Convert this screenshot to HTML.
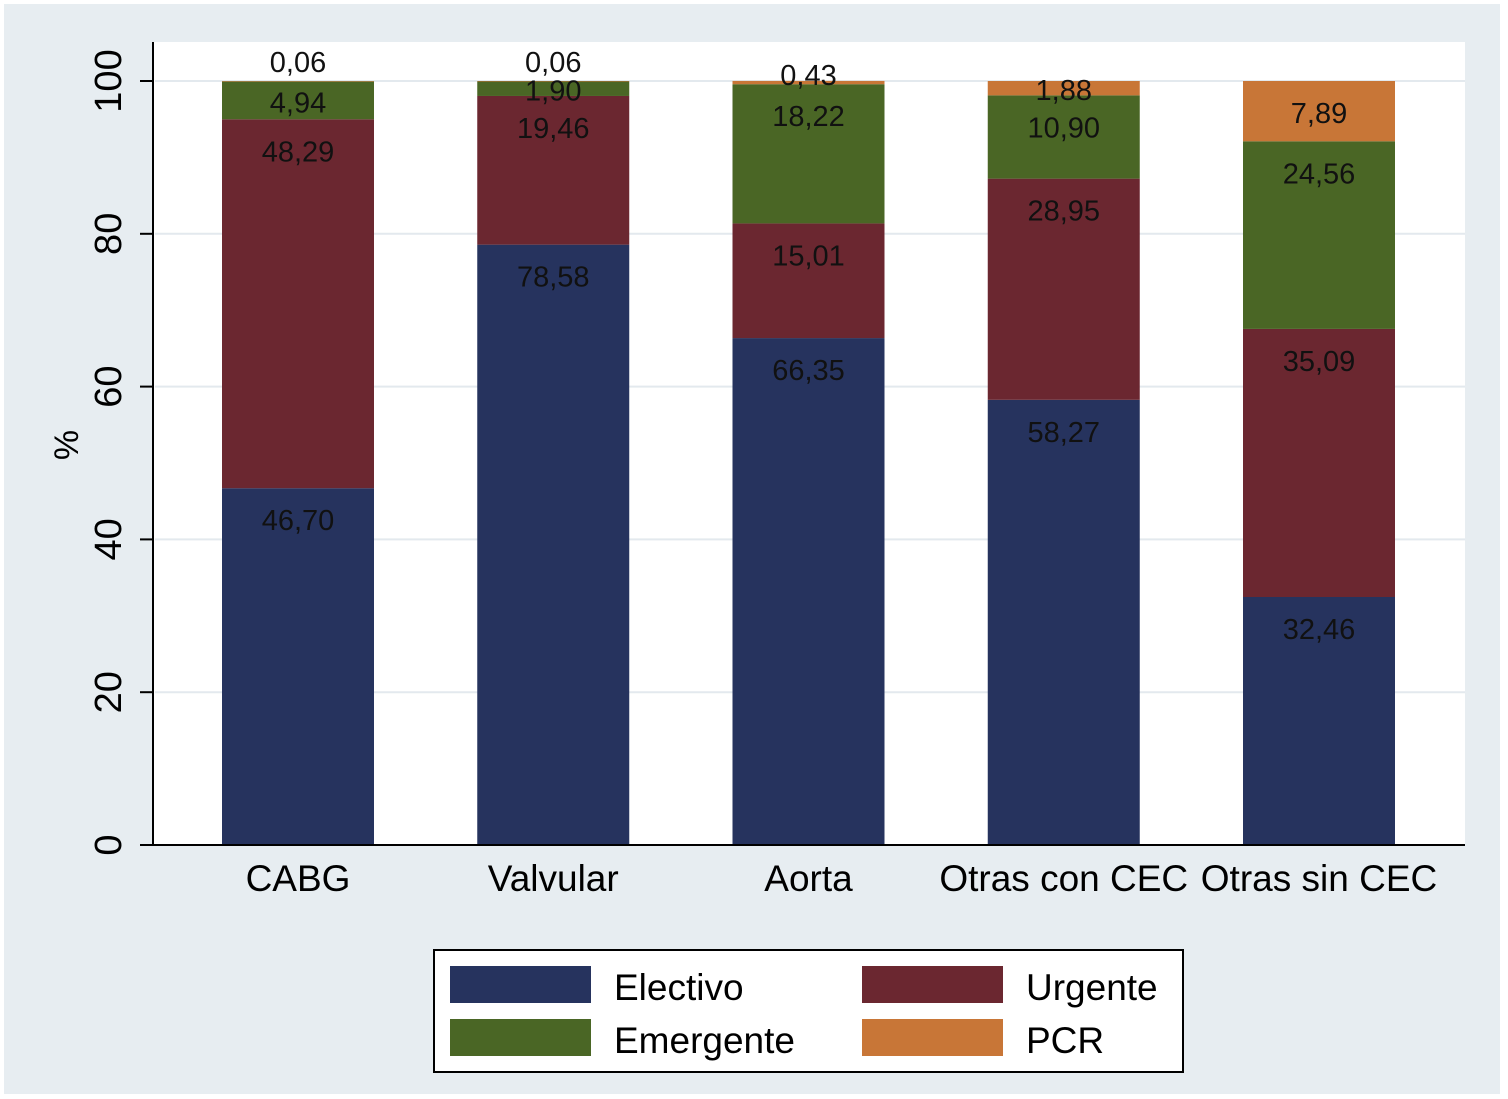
<!DOCTYPE html>
<html><head><meta charset="utf-8"><style>
html,body{margin:0;padding:0;background:#fff}
svg{display:block;font-family:"Liberation Sans",Arial,sans-serif}
</style></head><body>
<svg id="chart" width="1508" height="1099" viewBox="0 0 1508 1099" xmlns="http://www.w3.org/2000/svg">
<rect x="4" y="4" width="1496" height="1090" fill="#e7edf1"/>
<rect x="153" y="42" width="1312" height="803" fill="#fff"/>
<g id="grid"></g>
<g id="bars"></g>
<g id="labels"></g>
<line x1="153" y1="42" x2="153" y2="846" stroke="#000" stroke-width="2"/>
<line x1="153" y1="845" x2="1465" y2="845" stroke="#000" stroke-width="2"/>
<g id="yticks"></g>
<text transform="translate(78,445) rotate(-90)" text-anchor="middle" font-size="34">%</text>
<g id="xlabels"></g>
<g>
<rect x="434" y="950" width="749" height="122" fill="#fff" stroke="#000" stroke-width="2"/>
<rect x="450" y="966" width="141" height="37" fill="#26335e"/>
<text x="614" y="1000" font-size="37">Electivo</text>
<rect x="862" y="966" width="141" height="37" fill="#6b2730"/>
<text x="1026" y="1000" font-size="37">Urgente</text>
<rect x="450" y="1019" width="141" height="37" fill="#4a6625"/>
<text x="614" y="1053" font-size="37">Emergente</text>
<rect x="862" y="1019" width="141" height="37" fill="#c87637"/>
<text x="1026" y="1053" font-size="37">PCR</text>
</g>
</svg>
<script>
const categories=["CABG","Valvular","Aorta","Otras con CEC","Otras sin CEC"];
const electivo=[46.70,78.58,66.35,58.27,32.46];
const urgente=[48.29,19.46,15.01,28.95,35.09];
const emergente=[4.94,1.90,18.22,10.90,24.56];
const pcr=[0.06,0.06,0.43,1.88,7.89];
const yTicks=[0,20,40,60,80,100];
const seriesNames=["electivo","urgente","emergente","pcr"];
const colors=["#26335e","#6b2730","#4a6625","#c87637"];
const NS="http://www.w3.org/2000/svg";
const y0=845,y100=81,x0=298,step=255.25,bw=152;
function yScale(v){return y0-(y0-y100)*v/100;}
function xScale(i){return x0+step*i;}
function fmt(v){return v.toFixed(2).replace('.',',');}
function mk(tag,attrs,parent){const e=document.createElementNS(NS,tag);for(const k in attrs)e.setAttribute(k,attrs[k]);parent.appendChild(e);return e;}
const grid=document.getElementById('grid'),bars=document.getElementById('bars'),labels=document.getElementById('labels'),yt=document.getElementById('yticks'),xl=document.getElementById('xlabels');
yTicks.forEach(t=>{
  const y=yScale(t);
  if(t>0){const g=mk('line',{x1:155,x2:1465,y1:y,y2:y,stroke:'#e3e9ee','stroke-width':2},grid);
  
  }
  const tk=mk('line',{x1:140,x2:153,y1:y,y2:y,stroke:'#000','stroke-width':2},yt);
  
  
  const tx=mk('text',{transform:`translate(121,${y}) rotate(-90)`,'text-anchor':'middle','font-size':38},yt);
  
  
  tx.textContent=t;
});
const all=[electivo,urgente,emergente,pcr];
categories.forEach((c,i)=>{
  let base=0;const cx=xScale(i);
  all.forEach((s,k)=>{
    const v=s[i],top=yScale(base+v),bot=yScale(base);
    const r=mk('rect',{x:cx-bw/2,y:top,width:bw,height:Math.max(bot-top,0.5),fill:colors[k]},bars);
    
    
    const h=bot-top;
    let ly;
    if(h<6){ly=v>0.2?top-6:top-19;}
    else ly=Math.min(top+32,(top+bot)/2+2);
    const t=mk('text',{x:cx,y:ly+10,'text-anchor':'middle','font-size':29,fill:'#111'},labels);
    
    
    t.textContent=fmt(v);
    base+=v;
  });
  const xt=mk('text',{x:cx,y:891,'text-anchor':'middle','font-size':37},xl);
  
  
  xt.textContent=c;
});
</script>
</body></html>
